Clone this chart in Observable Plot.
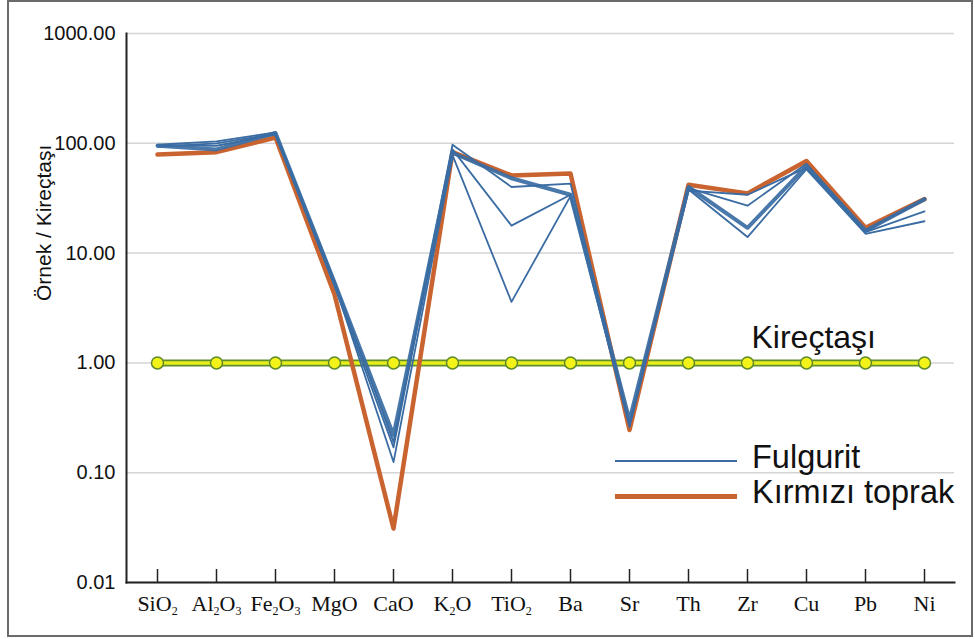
<!DOCTYPE html>
<html><head><meta charset="utf-8">
<script src="https://cdn.jsdelivr.net/npm/d3@7"></script>
<script src="https://cdn.jsdelivr.net/npm/@observablehq/plot@0.6"></script>
<style>
body{margin:0;background:#fff;}
#wrap{position:relative;width:975px;height:639px;overflow:hidden;}
#border{position:absolute;left:7px;top:0;width:962px;height:633px;border:2px solid #6a6a6a;pointer-events:none;}
.leg{position:absolute;font-family:"Liberation Sans",Arial,sans-serif;font-size:32.5px;line-height:31px;color:#111;white-space:nowrap;}
.sw{position:absolute;}
</style></head><body>
<div id="wrap"><div id="chart"></div><div id="border"></div></div>
<script>
const categories = ["SiO2","Al2O3","Fe2O3","MgO","CaO","K2O","TiO2","Ba","Sr","Th","Zr","Cu","Pb","Ni"];
const yTicks = [0.01, 0.1, 1, 10, 100, 1000];
const kirectasi = [1,1,1,1,1,1,1,1,1,1,1,1,1,1];
const kirmiziToprak = [79, 83, 113, 4.2, 0.031, 83, 51, 53, 0.245, 42, 35, 69, 17, 31];
const fulguritThick = [95, 88, 124, 5.4, 0.22, 82, 48, 34, 0.30, 40, 17, 62, 16, 31];
const fulgurit2 = [97, 104, 126, 5.6, 0.19, 97, 40, 43, 0.28, 39, 27, 65, 15.5, 24];
const fulgurit3 = [93, 100, 122, 5.0, 0.17, 88, 17.8, 34, 0.27, 38, 14, 58, 15, 19.5];
const fulgurit4 = [96, 95, 120, 5.2, 0.125, 78, 3.6, 33, 0.26, 37, 34, 60, 15.8, 31];
const legendLabels = ["Fulgurit", "Kırmızı toprak"];
const blue = "#3a6ca3", orange = "#c9632f";

const rows = (vals, s) => categories.map((c, i) => ({cat: c, v: vals[i], s}));
const kRows = rows(kirectasi, "Kireçtaşı");
const thinRows = [...rows(fulgurit2, "F2"), ...rows(fulgurit3, "F3"), ...rows(fulgurit4, "F4")];

const chart = Plot.plot({
  width: 975, height: 639,
  marginLeft: 126, marginRight: 21, marginTop: 33, marginBottom: 57,
  x: {type: "point", domain: categories, padding: 0.5},
  y: {type: "log", domain: [0.01, 1000]},
  style: {background: "transparent", fontFamily: "Liberation Sans, Arial, sans-serif", color: "#111", overflow: "visible"},
  marks: [
    Plot.gridY({ticks: yTicks, stroke: "#d4d4d4", strokeOpacity: 1, strokeWidth: 1.5}),
    Plot.axisY({ticks: yTicks, tickSize: 0, tickPadding: 11, tickFormat: d => d.toFixed(2), fontSize: 20, label: null}),
    Plot.axisX({tickSize: 13, dy: -13, tickFormat: () => "", label: null, stroke: "#222", strokeWidth: 1.5}),
    Plot.axisX({tickSize: 0, tickPadding: 13, label: null, fontSize: 22, fontFamily: "Liberation Serif, Times New Roman, serif"}),
    Plot.frame({anchor: "left", stroke: "#222", strokeWidth: 2}),
    Plot.frame({anchor: "bottom", stroke: "#222", strokeWidth: 2}),
    Plot.text(["Örnek / Kireçtaşı"], {text: d => d, frameAnchor: "left", rotate: -90, dx: -82, dy: -7, fontSize: 21}),
    Plot.lineY(kRows, {x: "cat", y: "v", stroke: "#5f8f2c", strokeWidth: 7}),
    Plot.lineY(kRows, {x: "cat", y: "v", stroke: "#e6ee1c", strokeWidth: 3.5}),
    Plot.dot(kRows, {x: "cat", y: "v", r: 6, fill: "#f3f31a", stroke: "#5f8a2a", strokeWidth: 1.5}),
    Plot.text([{cat: "Zr", v: 1}], {x: "cat", y: "v", text: () => "Kireçtaşı", textAnchor: "start", lineAnchor: "bottom", dx: 4, dy: -15, fontSize: 32}),
    Plot.lineY(rows(kirmiziToprak, "K"), {x: "cat", y: "v", stroke: orange, strokeWidth: 4.5, strokeLinejoin: "round"}),
    Plot.lineY(thinRows, {x: "cat", y: "v", z: "s", stroke: blue, strokeWidth: 1.8, strokeLinejoin: "round"}),
    Plot.lineY(rows(fulguritThick, "F1"), {x: "cat", y: "v", stroke: blue, strokeWidth: 4, strokeOpacity: 0.92, strokeLinejoin: "round"})
  ]
});
document.getElementById("chart").appendChild(chart);

// subscripts on x tick labels
chart.querySelectorAll('g[aria-label="x-axis tick label"] text').forEach(t => {
  const s = t.textContent;
  if (!s || !/\d/.test(s)) return;
  t.textContent = "";
  const parts = s.split(/(\d+)/).filter(p => p !== "");
  let shifted = false;
  parts.forEach(p => {
    const ts = document.createElementNS("http://www.w3.org/2000/svg", "tspan");
    ts.textContent = p;
    if (/^\d+$/.test(p)) {
      ts.setAttribute("font-size", "12");
      ts.setAttribute("dy", "4");
      shifted = true;
    } else if (shifted) {
      ts.setAttribute("dy", "-4");
      shifted = false;
    }
    t.appendChild(ts);
  });
});

// legend
const wrap = document.getElementById("wrap");
const legendColors = [blue, orange];
const legendWidths = [2.5, 5];
const legendTops = [442, 477];
legendLabels.forEach((lab, i) => {
  const sw = document.createElement("div");
  sw.className = "sw";
  sw.style.left = "615px";
  sw.style.width = "122px";
  sw.style.height = legendWidths[i] + "px";
  sw.style.background = legendColors[i];
  sw.style.top = (legendTops[i] + 19 - legendWidths[i] / 2) + "px";
  wrap.appendChild(sw);
  const tx = document.createElement("div");
  tx.className = "leg";
  tx.style.left = "752px";
  tx.style.top = legendTops[i] + "px";
  tx.textContent = lab;
  wrap.appendChild(tx);
});
</script>
</body></html>
